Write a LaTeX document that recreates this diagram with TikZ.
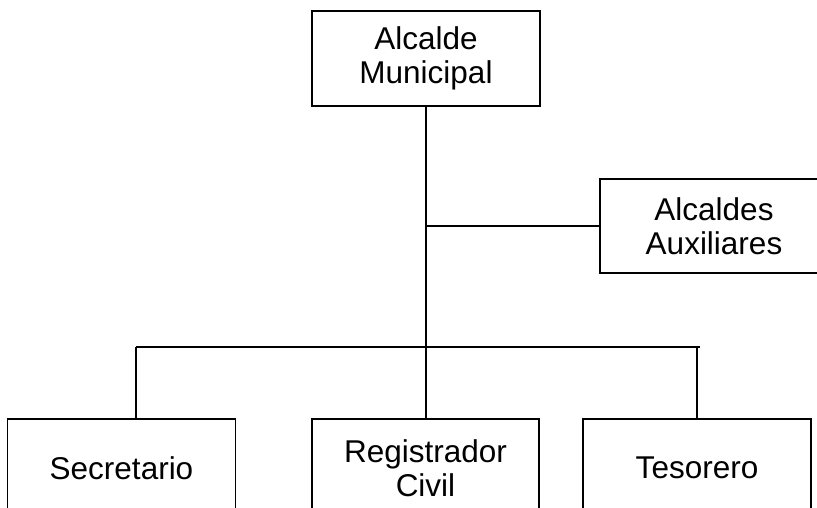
\documentclass[tikz,border=0pt]{standalone}
\usepackage{fontspec}
\setmainfont{Liberation Sans}
\begin{document}
\begin{tikzpicture}[x=1pt,y=-1pt,line width=1.2pt,
  cargo/.style={draw, rectangle, align=center, inner sep=0pt,
    minimum width=228pt, minimum height=95pt,
    font=\fontsize{31.5}{34}\selectfont}]
\useasboundingbox (0,0) rectangle (817,508);
\clip (0,0) rectangle (817,508);
\node[cargo] (alcalde) at (426,58.5) {Alcalde\\Municipal};
\node[cargo, minimum height=94pt] (auxiliares) at (714,226) {Alcaldes\\Auxiliares};
\node[cargo, minimum height=98pt] (secretario) at (121.5,468) {Secretario};
\node[cargo, minimum width=227pt, minimum height=98pt] (registrador) at (425.5,468) {Registrador\\Civil};
\node[cargo, minimum height=98pt] (tesorero) at (697,468) {Tesorero};
\coordinate (busL) at (136,347);
\coordinate (busR) at (700,347);
\draw (alcalde.south) -- (alcalde.south |- registrador.north);
\draw (auxiliares.west) -- (auxiliares.west -| alcalde.south);
\draw (busL) -- (busR);
\draw (busL) -- (busL |- secretario.north);
\draw (tesorero.north |- busR) -- (tesorero.north);
\end{tikzpicture}
\end{document}
